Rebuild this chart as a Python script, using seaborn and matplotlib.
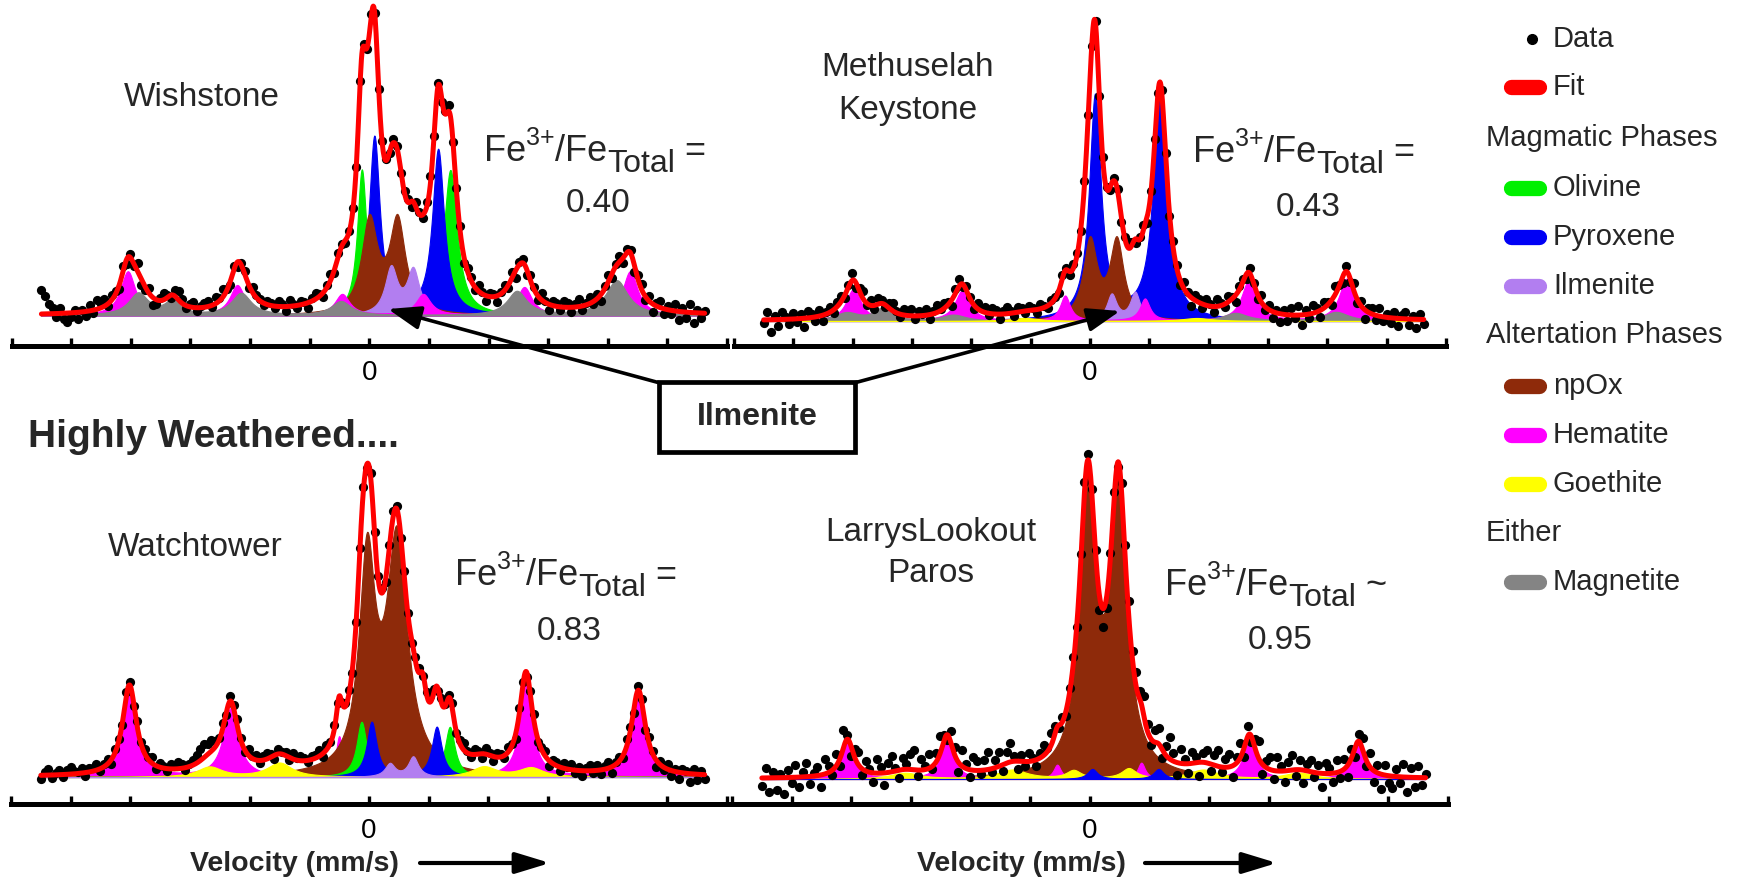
import numpy as np
import matplotlib
matplotlib.use("Agg")
import matplotlib.pyplot as plt
import seaborn as sns
from matplotlib.lines import Line2D
from matplotlib.patches import Rectangle, FancyArrowPatch

sns.set_theme(style="white")
plt.rcParams["font.family"] = ["Liberation Sans", "DejaVu Sans"]

W, H = 1743, 880

# ------------------------------------------------------------------ data
velocity_ticks = [-12, -10, -8, -6, -4, -2, 0, 2, 4, 6, 8, 10, 12]
tick_labels = ["", "", "", "", "", "", "0", "", "", "", "", "", ""]
v_range = (-11.0, 11.25)

# component peaks: (centre mm/s, height above baseline, half width mm/s)
wish_olivine = [(-0.25, 145, 0.19), (2.72, 145, 0.27)]
wish_pyroxene = [(0.17, 178, 0.22), (2.31, 165, 0.24)]
wish_ilmenite = [(0.73, 46, 0.25), (1.47, 44, 0.25)]
wish_npox = [(0.00, 92, 0.32), (0.94, 92, 0.32)]
wish_hematite = [(-8.10, 44, 0.30), (-4.43, 30, 0.30), (-0.91, 21, 0.30),
                 (1.81, 21, 0.30), (5.20, 28, 0.30), (8.75, 44, 0.30)]
wish_magnetite = [(-7.75, 22, 0.40), (-6.60, 14, 0.30), (-4.30, 22, 0.40),
                  (-0.95, 14, 0.40), (4.95, 24, 0.40), (8.30, 35, 0.45)]

meth_pyroxene = [(0.17, 224, 0.24), (2.36, 226, 0.28)]
meth_npox = [(0.00, 78, 0.28), (0.90, 78, 0.28)]
meth_ilmenite = [(0.73, 26, 0.20), (1.52, 28, 0.20)]
meth_hematite = [(-7.97, 32, 0.30), (-4.31, 30, 0.30), (-0.84, 25, 0.20),
                 (1.85, 22, 0.20), (5.35, 40, 0.30), (8.65, 42, 0.30)]
meth_magnetite = [(-8.20, 8, 0.50), (-7.00, 12, 0.35), (-4.60, 6, 0.50),
                  (4.90, 8, 0.50), (8.30, 9, 0.50)]
meth_goethite = [(-2.20, 3, 0.60), (3.60, 3, 0.60)]

watch_npox = [(-0.07, 210, 0.32), (0.93, 232, 0.42)]
watch_olivine = [(-0.25, 55, 0.20), (2.71, 50, 0.20)]
watch_pyroxene = [(0.09, 55, 0.20), (2.27, 50, 0.20)]
watch_ilmenite = [(0.70, 13, 0.20), (1.48, 20, 0.20)]
watch_hematite = [(-8.03, 90, 0.28), (-4.64, 68, 0.30), (-1.00, 40, 0.13),
                  (1.80, 35, 0.15), (5.26, 92, 0.25), (9.03, 85, 0.28)]
watch_goethite = [(-5.34, 10, 0.50), (-3.00, 14, 0.50), (3.85, 10, 0.50), (5.43, 9, 0.50)]

larry_npox = [(-0.08, 282, 0.33), (0.95, 284, 0.33)]
larry_hematite = [(-8.13, 38, 0.25), (-4.79, 40, 0.25), (-1.10, 14, 0.15),
                  (1.72, 16, 0.15), (5.35, 40, 0.25), (9.00, 36, 0.25)]
larry_goethite = [(-6.20, 6, 0.60), (-2.60, 9, 0.60), (-0.55, 8, 0.30),
                  (1.30, 10, 0.30), (3.80, 9, 0.60), (7.00, 6, 0.60)]
larry_pyroxene = [(0.08, 10, 0.20), (2.30, 10, 0.20)]

# measured points: deviation of each data channel from the fit (same units)
wish_resid = [24, 18, 10, 6, -3, 5, -6, -9, -4, 3,
              -7, 2, -5, 6, -3, 9, 4, 7, -2, 5,
              3, -4, 6, -5, 3, -2, 8, -6, -3, 5,
              -8, -4, 3, 7, 2, -3, 6, 9, 4, -2,
              3, 5, -3, 2, 4, 6, -2, 7, 3, 8,
              2, -4, 3, -5, 2, 4, -3, 6, 3, 2,
              -2, 4, 3, -2, 5, 3, -4, 6, 2, -3,
              4, 2, -5, 3, 6, 2, -4, 3, 7, -2,
              5, 3, -3, 2, 4, -2, 3, 2, -3, 4,
              2, -3, 3, 2, -2, 4, 3, -3, 2, 4,
              -6, 4, 2, -3, 5, 7, -2, 4, -5, 3,
              6, -4, 2, 5, -7, 3, 4, -3, 6, 2,
              -5, 4, 3, -6, 2, 5, -3, 6, -8, 3,
              4, -5, 6, 3, -4, 7, 2, -6, 5, 3,
              -3, 6, 4, -5, 3, 8, -4, 2, 6, -3,
              5, -6, 3, 7, -4, 2, 6, -5, 4, 3,
              -7, 4, 6, -3, 5, -8, 3, 7, -5, 4,
              -4, 7, -9, 4, -6, 8, -10, 3, -5, 2]
meth_resid = [-3, 8, -12, 4, -6, 7, 2, -5, 6, -3,
              5, -9, 7, 3, -4, 6, -6, 2, 5, -3,
              4, 6, -3, 2, 7, -5, 3, 8, -2, 5,
              -4, 6, 3, -2, 5, 8, 2, -3, 6, 4,
              7, -3, 5, 2, 6, -4, 3, 7, 2, 5,
              3, -6, 4, 7, -3, 5, 2, -4, 6, 3,
              5, -2, 6, 4, -5, 3, 7, 2, -3, 5,
              3, -2, 4, 2, -3, 5, 2, -2, 3, 2,
              -2, 3, 2, -3, 4, 2, -2, 3, 2, -2,
              3, -2, 4, 2, -3, 3, 2, -5, 3, 6,
              2, -4, 3, 5, -6, 2, 6, -3, 4, 2,
              -5, 6, 3, -4, 7, 2, -8, 5, 3, -4,
              6, 2, -5, 7, 3, -3, 6, 2, -7, 4,
              3, -5, 6, 2, -4, 7, -3, 5, -6, 3,
              -8, 4, -6, 7, -3, 9, -10, 5, -4, 8,
              4, -7, 6, 3, -5, 8, 2, -6, 5, -4,
              7, -3, 5, -9, 4, 6, -5, 8, -4, 3,
              -5, 6, -8, 4, 7, -6, 3, -9, 5, -4]
watch_resid = [-4, 3, 6, -3, 2, 5, -2, 4, 7, 3,
               2, 5, -3, 4, 3, 6, -2, 3, 5, -4,
               4, 2, -3, 5, 3, -4, 6, 2, 5, 3,
               6, -3, 4, 2, -2, 5, 3, 7, 4, -2,
               3, 5, 8, 12, 14, 10, 11, 6, 3, 6,
               -2, 5, 4, 7, 3, -2, 6, 2, 5, -3,
               4, 6, 3, -4, 5, 2, 4, -3, 6, 2,
               5, 3, -2, 4, 3, 6, -3, 5, 2, 7,
               3, -2, 4, 6, -3, 2, 5, 3, -4, 6,
               2, 4, 5, -3, 2, 6, 3, -4, 5, 2,
               -3, 4, 5, -3, 2, 6, 3, -4, 5, 2,
               3, 6, -2, 4, 7, 2, -3, 5, 3, -4,
               6, 2, -5, 4, 3, -3, 5, 2, -4, 6,
               3, -5, 4, 7, -3, 2, 5, -6, 3, 4,
               -4, 5, 2, 6, -3, 4, -5, 3, 6, -2,
               5, -4, 3, 6, -6, 2, 4, -3, 7, 3,
               -6, 4, 2, -5, 6, 3, -7, 4, -3, 5,
               -5, 3, -7, 4, 2, -8, 5, -6, 3, -4]
larry_resid = [-8, 10, -14, 6, -12, 4, -16, 8, -6, 12,
               -10, 5, 14, -8, 3, 9, -12, 15, 6, -5,
               12, -7, 18, 4, -10, 8, 13, -6, 10, 3,
               -9, 14, 6, -12, 9, 16, 3, -8, 12, 5,
               15, 20, -6, 11, 4, 14, -3, 9, 18, 7,
               -5, 12, 8, -10, 16, 4, -7, 13, 9, -4,
               10, 17, -3, 8, 14, -6, 11, 19, 5, -8,
               6, -4, 8, 3, -6, 5, 10, 4, 12, 8,
               -3, 5, -5, 4, 7, -5, 8, 10, 6, 4,
               3, -15, -18, -12, 4, 7, -5, 8, 14, 18,
               10, 15, 9, 20, 7, -6, 12, 16, -8, 10,
               22, 8, -12, 14, 5, -9, 11, 6, -14, 9,
               13, -7, 10, 16, -5, 8, 13, -11, 6, 15,
               -9, 11, -6, 9, 17, -10, 7, 12, -8, 14,
               5, -11, 9, 15, -6, 10, -13, 7, 12, -5,
               8, -14, 11, 6, -9, 13, -7, 10, -12, 9,
               -10, 7, 12, -6, 14, -11, 8, -15, 10, -7,
               -12, 8, -6, 13, -15, 9, -10, 12, -7, 4]

colors = {"Olivine": "#00F000", "Pyroxene": "#0000F5", "Ilmenite": "#B27EF0",
          "npOx": "#8E2A0A", "Hematite": "#FF00FF", "Goethite": "#FFFF00",
          "Magnetite": "#848484"}

panels = [
    dict(box=(11.6, 727, 0, 346), ylim=(-30.5, 315.5),
         phases={"Olivine": wish_olivine, "Pyroxene": wish_pyroxene, "npOx": wish_npox,
                 "Ilmenite": wish_ilmenite, "Hematite": wish_hematite, "Magnetite": wish_magnetite},
         order=["Olivine", "Pyroxene", "npOx", "Ilmenite", "Hematite", "Magnetite"],
         resid=wish_resid),
    dict(box=(734, 1446, 0, 346), ylim=(-25, 321),
         phases={"Pyroxene": meth_pyroxene, "npOx": meth_npox, "Ilmenite": meth_ilmenite,
                 "Hematite": meth_hematite, "Magnetite": meth_magnetite, "Goethite": meth_goethite},
         order=["Pyroxene", "npOx", "Ilmenite", "Hematite", "Magnetite", "Goethite"],
         resid=meth_resid),
    dict(box=(11.0, 727, 430, 804), ylim=(-27, 347),
         phases={"Hematite": watch_hematite, "npOx": watch_npox, "Olivine": watch_olivine,
                 "Pyroxene": watch_pyroxene, "Goethite": watch_goethite, "Ilmenite": watch_ilmenite},
         order=["Hematite", "npOx", "Olivine", "Pyroxene", "Goethite", "Ilmenite"],
         resid=watch_resid),
    dict(box=(732, 1448, 430, 804), ylim=(-25, 349),
         phases={"npOx": larry_npox, "Hematite": larry_hematite, "Goethite": larry_goethite,
                 "Pyroxene": larry_pyroxene},
         order=["npOx", "Hematite", "Goethite", "Pyroxene"],
         resid=larry_resid),
]


def fx(x):
    return x / W


def fy(y):
    return 1 - y / H


def lorentz_sum(v, peaks):
    y = np.zeros_like(v, dtype=float)
    for c, h, w in peaks:
        y += h / (1.0 + ((v - c) / w) ** 2)
    return y


fig = plt.figure(figsize=(W / 100, H / 100), dpi=100)
fig.patch.set_facecolor("white")

for p in panels:
    x0, x1, y0, y1 = p["box"]
    ax = fig.add_axes([fx(x0), fy(y1), (x1 - x0) / W, (y1 - y0) / H])
    ax.patch.set_alpha(0)
    vf = np.linspace(v_range[0], v_range[1], 1400)
    total = np.zeros_like(vf)
    comps = {}
    for name, peaks in p["phases"].items():
        comps[name] = lorentz_sum(vf, peaks)
        total += comps[name]
    for i, name in enumerate(p["order"]):
        ax.fill_between(vf, 0, comps[name], color=colors[name], lw=0.8, zorder=1 + 0.01 * i)
    vd = np.linspace(v_range[0], v_range[1], len(p["resid"]))
    fit_d = sum(lorentz_sum(vd, pk) for pk in p["phases"].values())
    yd = fit_d + np.array(p["resid"], dtype=float)
    sns.scatterplot(x=vd, y=yd, ax=ax, color="black", s=44, linewidth=0, zorder=4)
    sns.lineplot(x=vf, y=total, ax=ax, color="#FF0000", lw=3.6, zorder=5,
                 estimator=None, errorbar=None)
    ax.set_xlim(-12, 12)
    ax.set_ylim(*p["ylim"])
    for s in ["left", "right", "top"]:
        ax.spines[s].set_visible(False)
    ax.spines["bottom"].set_linewidth(3.6)
    ax.spines["bottom"].set_color("black")
    ax.set_xticks(velocity_ticks)
    ax.set_xticklabels(tick_labels, fontsize=20)
    ax.set_yticks([])
    ax.tick_params(axis="x", direction="in", length=6, width=2.4, pad=10,
                   colors="black", bottom=True)
    ax.set_xlabel("")
    ax.set_ylabel("")
    ax.grid(False)

# ------------------------------------------------------------------ texts
fs_lab = 24
fig.text(fx(202), fy(98), "Wishstone", fontsize=fs_lab, ha="center", va="center")
fig.text(fx(908), fy(67), "Methuselah", fontsize=fs_lab, ha="center", va="center")
fig.text(fx(908), fy(110), "Keystone", fontsize=fs_lab, ha="center", va="center")
fig.text(fx(195), fy(548), "Watchtower", fontsize=fs_lab, ha="center", va="center")
fig.text(fx(931), fy(532), "LarrysLookout", fontsize=fs_lab, ha="center", va="center")
fig.text(fx(931), fy(573), "Paros", fontsize=fs_lab, ha="center", va="center")
fig.text(fx(28), fy(437), "Highly Weathered....", fontsize=28, fontweight="bold",
         ha="left", va="center")

renderer = fig.canvas.get_renderer()


def fe_ratio(x0, base_y, tail):
    pieces = [("Fe", 26, 0), ("3+", 18, 16), ("/Fe", 26, 0), ("Total", 23, -11), (tail, 26, 0)]
    x = x0
    for s, size, dy in pieces:
        t = fig.text(fx(x), fy(base_y - dy), s, fontsize=size, ha="left", va="baseline")
        x += t.get_window_extent(renderer).width


fe_ratio(484, 161, " =")
fe_ratio(1193, 162, " =")
fe_ratio(455, 585, " =")
fe_ratio(1165, 595, " ~")
fig.text(fx(598), fy(203), "0.40", fontsize=24, ha="center", va="center")
fig.text(fx(1308), fy(207), "0.43", fontsize=24, ha="center", va="center")
fig.text(fx(569), fy(631), "0.83", fontsize=24, ha="center", va="center")
fig.text(fx(1280), fy(640), "0.95", fontsize=24, ha="center", va="center")

# Ilmenite call-out box and arrows
fig.add_artist(Rectangle((fx(659), fy(452)), (855 - 659) / W, (452 - 382) / H,
                         transform=fig.transFigure, facecolor="white", edgecolor="black",
                         lw=3.4, zorder=6))
fig.text(fx(757), fy(417), "Ilmenite", fontsize=23, fontweight="bold", ha="center",
         va="center", zorder=7)
for start, tip in [((660, 383), (388, 309)), ((854, 383), (1120, 311))]:
    fig.add_artist(FancyArrowPatch((fx(start[0]), fy(start[1])), (fx(tip[0]), fy(tip[1])),
                                   transform=fig.transFigure,
                                   arrowstyle="-|>,head_length=1.0,head_width=0.36",
                                   mutation_scale=20, lw=2.6, color="black",
                                   shrinkA=0, shrinkB=0, zorder=6))

# velocity labels
for cx, a0, a1 in [(294, 420, 550), (1021, 1145, 1277)]:
    fig.text(fx(cx), fy(864), "Velocity (mm/s)", fontsize=20.5, fontweight="bold",
             ha="center", va="center")
    fig.add_artist(FancyArrowPatch((fx(a0), fy(863)), (fx(a1), fy(863)),
                                   transform=fig.transFigure,
                                   arrowstyle="-|>,head_length=1.05,head_width=0.32",
                                   mutation_scale=20, lw=3.0, color="black",
                                   shrinkA=0, shrinkB=0))

# ------------------------------------------------------------------ legend
fs_leg = 21
item_x = 1553
fig.add_artist(Line2D([fx(1532)], [fy(39)], marker="o", ms=7, color="black", lw=0,
                      transform=fig.transFigure))
fig.text(fx(item_x), fy(39), "Data", fontsize=fs_leg, ha="left", va="center")
fig.add_artist(Line2D([fx(1511), fx(1539)], [fy(87), fy(87)], lw=11, color="#FF0000",
                      solid_capstyle="round", transform=fig.transFigure))
fig.text(fx(item_x), fy(87), "Fit", fontsize=fs_leg, ha="left", va="center")

rows = [("head", "Magmatic Phases", 138), ("item", "Olivine", 188), ("item", "Pyroxene", 237),
        ("item", "Ilmenite", 286), ("head", "Altertation Phases", 335), ("item", "npOx", 386),
        ("item", "Hematite", 435), ("item", "Goethite", 484), ("head", "Either", 533),
        ("item", "Magnetite", 582)]
for kind, label, y in rows:
    if kind == "head":
        fig.text(fx(1486), fy(y), label, fontsize=fs_leg, ha="left", va="center")
    else:
        fig.add_artist(Line2D([fx(1511), fx(1539)], [fy(y), fy(y)], lw=11, color=colors[label],
                              solid_capstyle="round", transform=fig.transFigure))
        fig.text(fx(item_x), fy(y), label, fontsize=fs_leg, ha="left", va="center")

fig.savefig("out.png", dpi=100)
